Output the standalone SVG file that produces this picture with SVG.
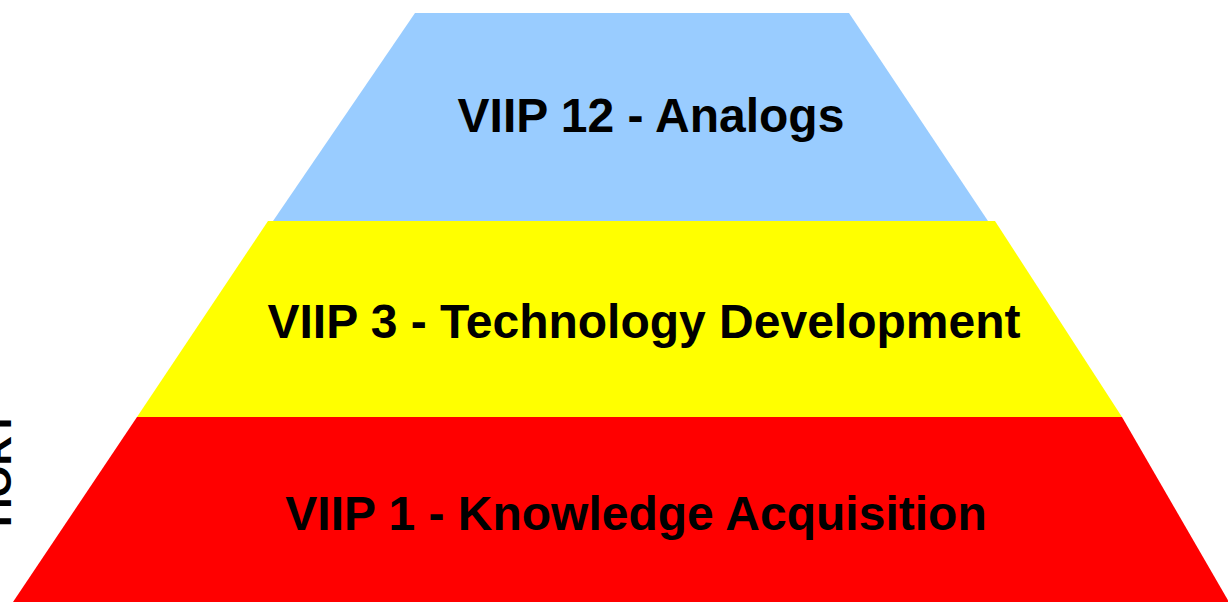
<svg xmlns="http://www.w3.org/2000/svg" width="1228" height="602" viewBox="0 0 1228 602">
<style>
.lbl{font-family:"Liberation Sans",Arial,sans-serif;font-weight:bold;font-size:48px;fill:#000;text-anchor:middle}
.side{font-family:"Liberation Sans",Arial,sans-serif;font-weight:bold;font-size:41px;fill:#000}
</style>
<rect width="1228" height="602" fill="#fff"/>
<g id="level-analogs">
<polygon points="415,13 849,13 988,221 273,221" fill="#99ccff"/>
<text class="lbl" x="651" y="132">VIIP 12 - Analogs</text>
</g>
<g id="level-technology">
<polygon points="268,221 995,221 1122,417 137,417" fill="#ffff00"/>
<text class="lbl" x="644" y="338">VIIP 3 - Technology Development</text>
</g>
<g id="level-knowledge">
<polygon points="137,417 1122,417 1229,602 13,602" fill="#ff0000"/>
<text class="lbl" x="636" y="530">VIIP 1 - Knowledge Acquisition</text>
</g>
<text class="side" transform="translate(11,527) rotate(-90)">HORT</text>
</svg>
